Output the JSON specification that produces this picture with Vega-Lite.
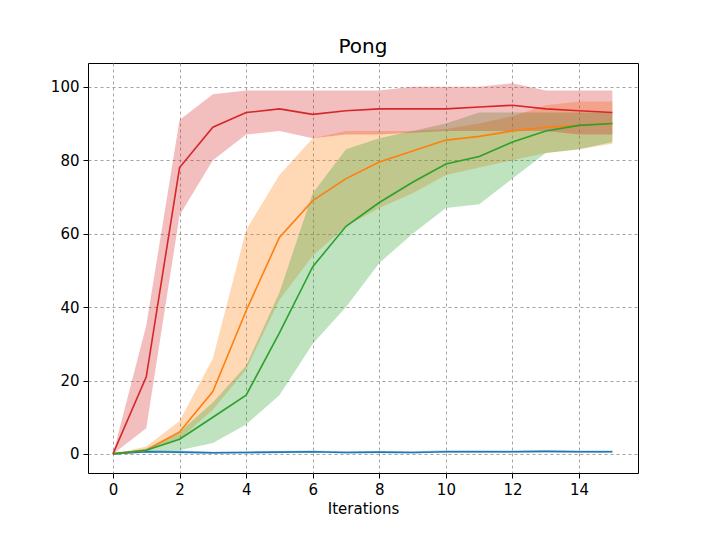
{
  "$schema": "https://vega.github.io/schema/vega-lite/v6.json",
  "width": 550,
  "height": 410,
  "autosize": {"type": "none"},
  "padding": {"left": 88, "top": 63, "right": 79, "bottom": 84},
  "title": {"text": "Pong", "fontSize": 20, "font": "DejaVu Sans", "fontWeight": "normal", "offset": 6},
  "data": {
    "values": [
      {"s": "a", "x": 0, "m": 0, "lo": 0, "hi": 0.5},
      {"s": "a", "x": 1, "m": 0.6, "lo": 0.3, "hi": 1},
      {"s": "a", "x": 2, "m": 0.5, "lo": 0.2, "hi": 0.9},
      {"s": "a", "x": 3, "m": 0.3, "lo": 0, "hi": 0.6},
      {"s": "a", "x": 4, "m": 0.4, "lo": 0.1, "hi": 0.7},
      {"s": "a", "x": 5, "m": 0.5, "lo": 0.2, "hi": 0.8},
      {"s": "a", "x": 6, "m": 0.6, "lo": 0.3, "hi": 0.9},
      {"s": "a", "x": 7, "m": 0.4, "lo": 0.1, "hi": 0.7},
      {"s": "a", "x": 8, "m": 0.5, "lo": 0.2, "hi": 0.8},
      {"s": "a", "x": 9, "m": 0.4, "lo": 0.1, "hi": 0.7},
      {"s": "a", "x": 10, "m": 0.6, "lo": 0.3, "hi": 1},
      {"s": "a", "x": 11, "m": 0.6, "lo": 0.3, "hi": 1},
      {"s": "a", "x": 12, "m": 0.6, "lo": 0.3, "hi": 0.9},
      {"s": "a", "x": 13, "m": 0.7, "lo": 0.4, "hi": 1},
      {"s": "a", "x": 14, "m": 0.6, "lo": 0.3, "hi": 0.9},
      {"s": "a", "x": 15, "m": 0.6, "lo": 0.3, "hi": 0.9},
      {"s": "b", "x": 0, "m": 0, "lo": 0, "hi": 0},
      {"s": "b", "x": 1, "m": 1, "lo": 1, "hi": 2},
      {"s": "b", "x": 2, "m": 6, "lo": 4, "hi": 9},
      {"s": "b", "x": 3, "m": 17, "lo": 12, "hi": 26},
      {"s": "b", "x": 4, "m": 39, "lo": 23, "hi": 61},
      {"s": "b", "x": 5, "m": 59, "lo": 42, "hi": 76},
      {"s": "b", "x": 6, "m": 69, "lo": 54, "hi": 86},
      {"s": "b", "x": 7, "m": 75, "lo": 62, "hi": 88},
      {"s": "b", "x": 8, "m": 79.5, "lo": 67, "hi": 88},
      {"s": "b", "x": 9, "m": 82.5, "lo": 71, "hi": 88},
      {"s": "b", "x": 10, "m": 85.5, "lo": 76, "hi": 88.5},
      {"s": "b", "x": 11, "m": 86.5, "lo": 78, "hi": 90},
      {"s": "b", "x": 12, "m": 88, "lo": 80, "hi": 92},
      {"s": "b", "x": 13, "m": 89, "lo": 82, "hi": 95},
      {"s": "b", "x": 14, "m": 89.5, "lo": 83, "hi": 96},
      {"s": "b", "x": 15, "m": 90, "lo": 84.5, "hi": 96},
      {"s": "c", "x": 0, "m": 0, "lo": 0, "hi": 0},
      {"s": "c", "x": 1, "m": 1, "lo": 0.5, "hi": 1.5},
      {"s": "c", "x": 2, "m": 4, "lo": 1, "hi": 6},
      {"s": "c", "x": 3, "m": 10, "lo": 3, "hi": 14},
      {"s": "c", "x": 4, "m": 16, "lo": 8, "hi": 24},
      {"s": "c", "x": 5, "m": 33, "lo": 16, "hi": 44},
      {"s": "c", "x": 6, "m": 51, "lo": 30, "hi": 71},
      {"s": "c", "x": 7, "m": 62, "lo": 40, "hi": 83},
      {"s": "c", "x": 8, "m": 68.5, "lo": 52, "hi": 86},
      {"s": "c", "x": 9, "m": 74, "lo": 60, "hi": 88},
      {"s": "c", "x": 10, "m": 79, "lo": 67, "hi": 90},
      {"s": "c", "x": 11, "m": 81, "lo": 68, "hi": 93},
      {"s": "c", "x": 12, "m": 85, "lo": 75, "hi": 93},
      {"s": "c", "x": 13, "m": 88, "lo": 82, "hi": 93},
      {"s": "c", "x": 14, "m": 89.5, "lo": 83, "hi": 93},
      {"s": "c", "x": 15, "m": 90, "lo": 85, "hi": 93},
      {"s": "d", "x": 0, "m": 0, "lo": 0, "hi": 0},
      {"s": "d", "x": 1, "m": 21, "lo": 7, "hi": 35},
      {"s": "d", "x": 2, "m": 78, "lo": 65, "hi": 91},
      {"s": "d", "x": 3, "m": 89, "lo": 80, "hi": 98},
      {"s": "d", "x": 4, "m": 93, "lo": 87, "hi": 99},
      {"s": "d", "x": 5, "m": 94, "lo": 88, "hi": 99},
      {"s": "d", "x": 6, "m": 92.5, "lo": 86, "hi": 99},
      {"s": "d", "x": 7, "m": 93.5, "lo": 87, "hi": 99},
      {"s": "d", "x": 8, "m": 94, "lo": 87, "hi": 99},
      {"s": "d", "x": 9, "m": 94, "lo": 87.5, "hi": 100},
      {"s": "d", "x": 10, "m": 94, "lo": 88, "hi": 100},
      {"s": "d", "x": 11, "m": 94.5, "lo": 88, "hi": 100},
      {"s": "d", "x": 12, "m": 95, "lo": 88, "hi": 101},
      {"s": "d", "x": 13, "m": 94, "lo": 88, "hi": 99},
      {"s": "d", "x": 14, "m": 93.5, "lo": 87, "hi": 99},
      {"s": "d", "x": 15, "m": 93, "lo": 87, "hi": 99}
    ]
  },
  "encoding": {
    "x": {"field": "x", "type": "quantitative", "scale": {"domain": [-0.75, 15.77], "nice": false, "zero": false},
      "axis": {"values": [0, 2, 4, 6, 8, 10, 12, 14], "title": "Iterations"}},
    "color": {"field": "s", "type": "nominal", "legend": null,
      "scale": {"domain": ["a", "b", "c", "d"], "range": ["#1f77b4", "#ff7f0e", "#2ca02c", "#d62728"]}}
  },
  "layer": [
    {
      "mark": {"type": "area", "opacity": 0.3},
      "encoding": {
        "y": {"field": "lo", "type": "quantitative", "scale": {"domain": [-5.2, 106.5], "nice": false, "zero": false},
          "axis": {"values": [0, 20, 40, 60, 80, 100], "title": null}},
        "y2": {"field": "hi"}
      }
    },
    {
      "mark": {"type": "line", "strokeWidth": 1.6},
      "encoding": {"y": {"field": "m", "type": "quantitative"}}
    }
  ],
  "config": {
    "font": "DejaVu Sans",
    "view": {"stroke": "black", "strokeWidth": 1},
    "axis": {"grid": true, "gridDash": [3, 3], "gridColor": "#999", "gridOpacity": 0.9, "domain": false,
      "tickColor": "black", "tickSize": 5, "labelFontSize": 15, "labelColor": "black",
      "titleFontSize": 15, "titleFontWeight": "normal", "titleColor": "black", "labelPadding": 4}
  }
}
